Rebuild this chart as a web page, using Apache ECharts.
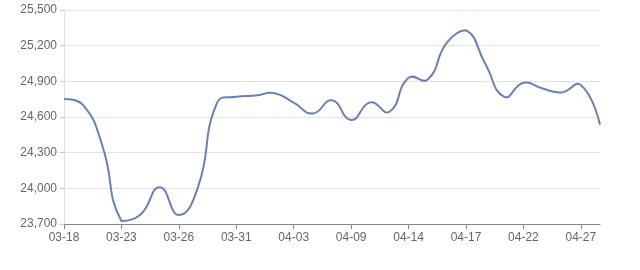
<!DOCTYPE html>
<html>
<head>
<meta charset="utf-8">
<script src="https://cdn.jsdelivr.net/npm/echarts@6/dist/echarts.min.js"></script>
<style>
html,body{margin:0;padding:0;background:#fff;}
#c{width:640px;height:270px;}
</style>
</head>
<body>
<div id="c"></div>
<script>
var dates = ["03-18","03-19","03-20","03-23","03-24","03-25","03-26","03-27","03-30","03-31",
             "04-01","04-02","04-03","04-07","04-08","04-09","04-10","04-13","04-14","04-15",
             "04-16","04-17","04-20","04-21","04-22","04-23","04-24","04-27","04-28"];
var prices = [24750,24700,24360,23725,23780,24010,23775,24010,24720,24770,
              24780,24800,24720,24630,24740,24575,24723,24644,24930,24915,
              25225,25330,25050,24770,24888,24840,24807,24869,24535];
var yMin = 23700, yMax = 25500, yStep = 300;

var LINE_COLOR = '#6b80b4';
var SMOOTH = 0.5;

// spline through the points (control points clamped to the points' bounding box)
function curvePath(pts) {
  var minX = Infinity, minY = Infinity, maxX = -Infinity, maxY = -Infinity;
  pts.forEach(function (p) {
    minX = Math.min(minX, p[0]); maxX = Math.max(maxX, p[0]);
    minY = Math.min(minY, p[1]); maxY = Math.max(maxY, p[1]);
  });
  function clamp(c) {
    return [Math.min(maxX, Math.max(minX, c[0])), Math.min(maxY, Math.max(minY, c[1]))];
  }
  var d = 'M' + pts[0][0] + ' ' + pts[0][1];
  var cp0 = pts[0].slice();
  for (var k = 1; k < pts.length; k++) {
    var p = pts[k], prev = pts[k - 1], next = pts[k + 1];
    var cp1, ncp0;
    if (!next) {
      cp1 = p.slice(); ncp0 = p.slice();
    } else {
      var vx = next[0] - prev[0], vy = next[1] - prev[1];
      var d0 = Math.hypot(p[0] - prev[0], p[1] - prev[1]);
      var d1 = Math.hypot(p[0] - next[0], p[1] - next[1]);
      var r = d1 / (d0 + d1);
      cp1 = clamp([p[0] - vx * SMOOTH * (1 - r), p[1] - vy * SMOOTH * (1 - r)]);
      ncp0 = clamp([p[0] + vx * SMOOTH * r, p[1] + vy * SMOOTH * r]);
    }
    d += ' C' + cp0[0] + ' ' + cp0[1] + ' ' + cp1[0] + ' ' + cp1[1] + ' ' + p[0] + ' ' + p[1];
    cp0 = ncp0;
  }
  return d;
}

var chart = echarts.init(document.getElementById('c'), null, {renderer:'canvas'});
chart.setOption({
  animation: false,
  backgroundColor: '#fff',
  grid: {left: 64, right: 40, top: 10, bottom: 46, containLabel: false},
  xAxis: {
    type: 'category',
    data: dates,
    boundaryGap: false,
    axisLine: {lineStyle: {color: '#888', width: 1}},
    axisTick: {show: true, interval: 2, length: 5, lineStyle: {color: '#888'}},
    axisLabel: {interval: 2, color: '#666', fontSize: 12, margin: 8, fontFamily: 'Liberation Sans, Arial, sans-serif'},
    splitLine: {show: false}
  },
  yAxis: {
    type: 'value',
    min: yMin, max: yMax, interval: yStep,
    axisLine: {show: true, lineStyle: {color: '#ddd'}},
    axisTick: {show: true, length: 4, lineStyle: {color: '#ccc'}},
    axisLabel: {color: '#666', fontSize: 12, margin: 7, fontFamily: 'Liberation Sans, Arial, sans-serif',
      formatter: function(v){ return v.toString().replace(/\B(?=(\d{3})+(?!\d))/g, ','); }},
    splitLine: {lineStyle: {color: '#e3e3e3', width: 1}}
  },
  series: [{
    type: 'custom',
    coordinateSystem: 'cartesian2d',
    data: prices.map(function (v, i) { return [i, v]; }),
    encode: {x: 0, y: 1},
    renderItem: function (params, api) {
      if (params.dataIndex !== 0) return null;
      var pts = prices.map(function (v, i) { return api.coord([i, v]); });
      return {
        type: 'path',
        silent: true,
        shape: {pathData: curvePath(pts)},
        style: {fill: 'none', stroke: LINE_COLOR, lineWidth: 2}
      };
    }
  }]
});
</script>
</body>
</html>
